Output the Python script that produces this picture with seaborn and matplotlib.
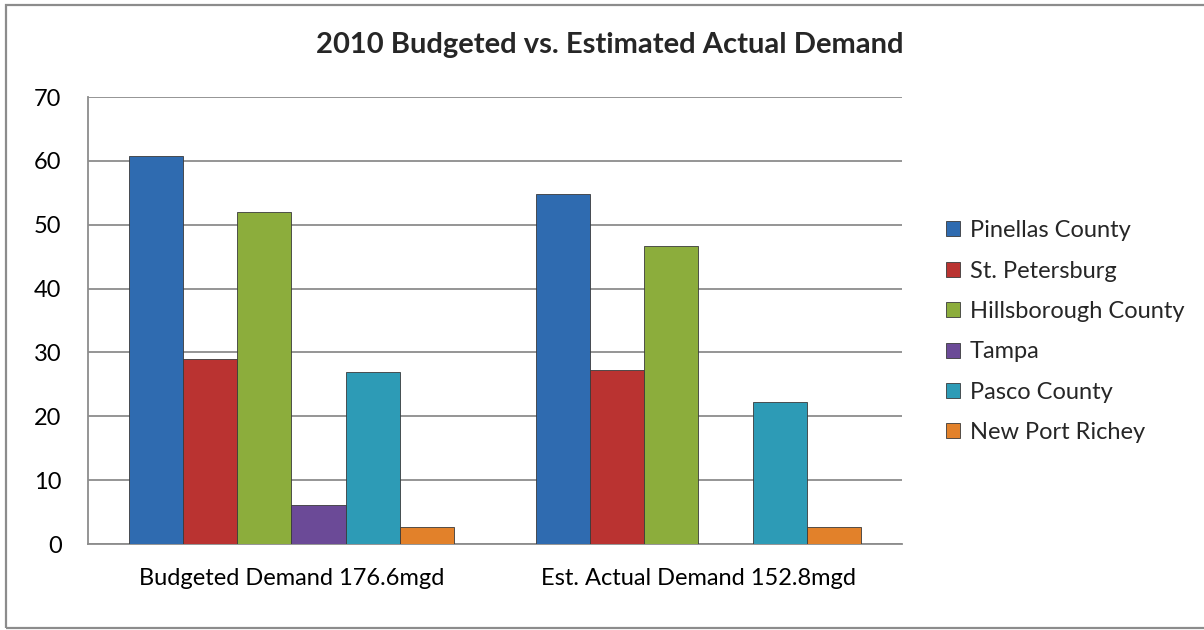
import numpy as np
import pandas as pd
import matplotlib.pyplot as plt
from matplotlib.patches import Rectangle
import seaborn as sns

# ─── DATA ─────────────────────────────────────────────────
categories = ["Budgeted Demand 176.6mgd", "Est. Actual Demand 152.8mgd"]
utilities  = ["Pinellas County", "St. Petersburg", "Hillsborough County",
              "Tampa", "Pasco County", "New Port Richey"]
budgeted   = [60.7, 28.9, 52.0, 6.1, 27.0, 2.6]
est_actual = [54.8, 27.3, 46.7, np.nan, 22.3, 2.6]   # no Tampa bar
colors     = ["#2F6BB0", "#BA3331", "#8CAD3C", "#6B4A97", "#2D9BB6", "#E2812A"]

df = pd.DataFrame({
    "category": [categories[0]] * len(utilities) + [categories[1]] * len(utilities),
    "utility":  utilities * 2,
    "value":    budgeted + est_actual,
})

# ─── STYLE ────────────────────────────────────────────────
sns.set_style("white")
plt.rcParams["font.family"] = ["Lato", "DejaVu Sans"]
GRID = "#8C8C8C"

fig = plt.figure(figsize=(12.04, 6.30), dpi=100)
ax = fig.add_axes([0.0731, 0.1365, 0.676, 0.7095])

sns.barplot(data=df, x="category", y="value", hue="utility",
            order=categories, hue_order=utilities, palette=colors,
            width=0.8, saturation=1, edgecolor="#3a3a3a", linewidth=0.6,
            ax=ax, legend=True, zorder=3)

ax.set_ylim(0, 70)
ax.set_yticks(range(0, 71, 10))
ax.set_xlim(-0.5, 1.5)
ax.yaxis.grid(True, color=GRID, linewidth=1.3, zorder=0)
ax.set_axisbelow(True)
ax.set_xlabel("")
ax.set_ylabel("")
for side in ["top", "right"]:
    ax.spines[side].set_visible(False)
for side in ["left", "bottom"]:
    ax.spines[side].set_color(GRID)
    ax.spines[side].set_linewidth(1.3)
ax.tick_params(axis="both", length=0, labelsize=17, colors="black")
ax.tick_params(axis="x", pad=17)
ax.tick_params(axis="y", pad=19)

fig.text(0.5066, 0.9286, "2010 Budgeted vs. Estimated Actual Demand",
         ha="center", va="center", fontsize=21, fontweight="bold")

ax.legend(loc="center left", bbox_to_anchor=(1.028, 0.475), frameon=False,
          fontsize=17, handlelength=0.6, handleheight=0.6,
          handletextpad=0.4, labelspacing=0.82)

# outer chart border (right edge runs off the picture)
fig.patches.append(Rectangle((6 / 1204, 2 / 630), 1.1, 623 / 630,
                             transform=fig.transFigure, fill=False,
                             edgecolor="#8C8C8C", linewidth=1.6))

plt.savefig("out.png", dpi=100)
